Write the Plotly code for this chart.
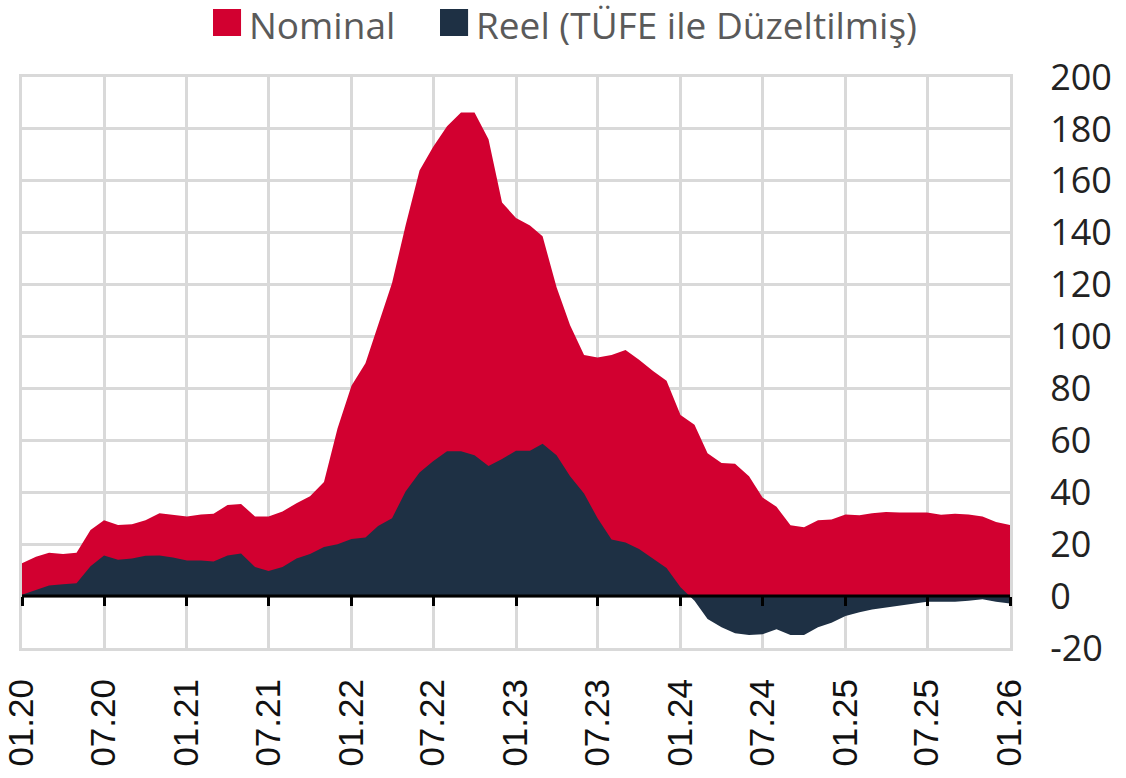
import pandas as pd
import plotly.graph_objects as go

months = pd.date_range("2020-01-01", periods=73, freq="MS")

nominal = [12.7, 15.2, 16.7, 16.2, 16.7, 25.5, 29.2, 27.4, 27.7, 29.2, 31.9, 31.4,
           30.7, 31.4, 31.7, 35.1, 35.5, 30.7, 30.7, 32.6, 35.8, 38.5, 44.0, 64.6,
           81.0, 89.7, 104.0, 120.6, 142.8, 164.0, 173.0, 181.0, 186.3, 186.3, 176.0, 151.6,
           145.7, 142.8, 138.6, 119.0, 104.4, 92.9, 91.9, 92.9, 94.8, 91.1, 86.7, 83.0,
           69.8, 66.0, 55.0, 51.3, 51.0, 46.2, 38.0, 34.4, 27.3, 26.5, 29.2, 29.5,
           31.4, 31.1, 31.9, 32.4, 32.2, 32.2, 32.2, 31.3, 31.7, 31.4, 30.7, 28.5,
           27.4]

reel = [0.5, 2.4, 4.1, 4.6, 4.9, 11.5, 15.6, 14.0, 14.5, 15.5, 15.6, 14.9,
        13.7, 13.7, 13.3, 15.6, 16.4, 11.2, 9.7, 11.2, 14.5, 16.2, 18.9, 20.0,
        22.0, 22.6, 27.0, 30.0, 40.3, 47.6, 52.0, 55.8, 55.8, 54.3, 50.1, 52.8,
        56.0, 56.0, 58.7, 54.3, 46.2, 39.5, 30.0, 21.8, 20.6, 18.1, 14.5, 10.8,
        3.4, -1.8, -8.8, -12.0, -14.3, -15.0, -14.7, -12.8, -15.0, -15.0, -12.0, -10.3,
        -7.7, -6.2, -5.2, -4.4, -3.5, -2.9, -2.2, -2.2, -2.2, -1.8, -1.2, -2.2,
        -2.9]

tick_vals = pd.date_range("2020-01-01", "2026-01-01", freq="6MS")
tick_text = ["01.20", "07.20", "01.21", "07.21", "01.22", "07.22", "01.23",
             "07.23", "01.24", "07.24", "01.25", "07.25", "01.26"]

y_tick_vals = [-20, 0, 20, 40, 60, 80, 100, 120, 140, 160, 180, 200]
y_tick_text = ["-20", "0", "20", "40", "60", "80", "100", "120", "140", "160", "180", "200"]

series_names = ["Nominal", "Reel (TÜFE ile Düzeltilmiş)"]
RED = "#D20030"
NAVY = "#1E3044"
GRID = "#D9D9D9"
FONT = "Open Sans"

y_min, y_max = -20, 200
x_range = [months[0], months[-1]]

fig = go.Figure()
fig.add_trace(go.Scatter(x=months, y=nominal, name=series_names[0], mode="lines",
                         line=dict(width=0, color=RED), fill="tozeroy",
                         fillcolor=RED, showlegend=False))
fig.add_trace(go.Scatter(x=months, y=reel, name=series_names[1], mode="lines",
                         line=dict(width=0, color=NAVY), fill="tozeroy",
                         fillcolor=NAVY, showlegend=False, xaxis="x2"))

fig.update_layout(
    width=1126, height=778,
    margin=dict(l=22, r=116, t=77, b=130),
    paper_bgcolor="white", plot_bgcolor="white",
    font=dict(family=FONT, size=34, color="#222222"),
    xaxis=dict(range=x_range, tickvals=tick_vals, ticktext=tick_text,
               tickangle=-90, showgrid=True, gridcolor=GRID, gridwidth=3,
               showline=True, linecolor=GRID, linewidth=3, mirror=True,
               ticks="", automargin=False, ticklabeloverflow="allow",
               ticklabelstandoff=14,
               tickfont=dict(family="Liberation Sans", size=35, color="#111111"),
               zeroline=False),
    xaxis2=dict(range=x_range, overlaying="x", anchor="free",
                position=(0 - y_min) / (y_max - y_min),
                tickvals=tick_vals, showticklabels=False, ticks="outside",
                ticklen=9, tickwidth=3, tickcolor="black", automargin=False,
                showgrid=False, showline=False, zeroline=False),
    yaxis=dict(range=[y_min, y_max], tickvals=y_tick_vals, ticktext=y_tick_text,
               side="right", showgrid=True, automargin=False,
               gridcolor=GRID, gridwidth=3, showline=True, linecolor=GRID,
               linewidth=3, mirror=True, zeroline=False, ticks="",
               ticklabelstandoff=30, ticklabeloverflow="allow",
               tickfont=dict(size=36, color="#222222")),
)

fig.add_shape(type="line", xref="paper", x0=0, x1=1, yref="y", y0=0, y1=0,
              line=dict(color="black", width=3), layer="above")

# manual legend
legend_items = [(RED, 0.1933, series_names[0]), (NAVY, 0.4231, series_names[1])]
for color, x0, label in legend_items:
    fig.add_shape(type="rect", xref="paper", yref="paper",
                  x0=x0, x1=x0 + 0.0284, y0=1.0718, y1=1.1191,
                  fillcolor=color, line=dict(width=0))
    fig.add_annotation(xref="paper", yref="paper", x=x0 + 0.034, y=1.0915,
                       text=label, showarrow=False, xanchor="left",
                       yanchor="middle",
                       font=dict(family=FONT, size=37, color="#5A5A5A"))

fig.write_html("out.html",
               config={"displayModeBar": False},
               post_script="document.body.style.margin='0';")
